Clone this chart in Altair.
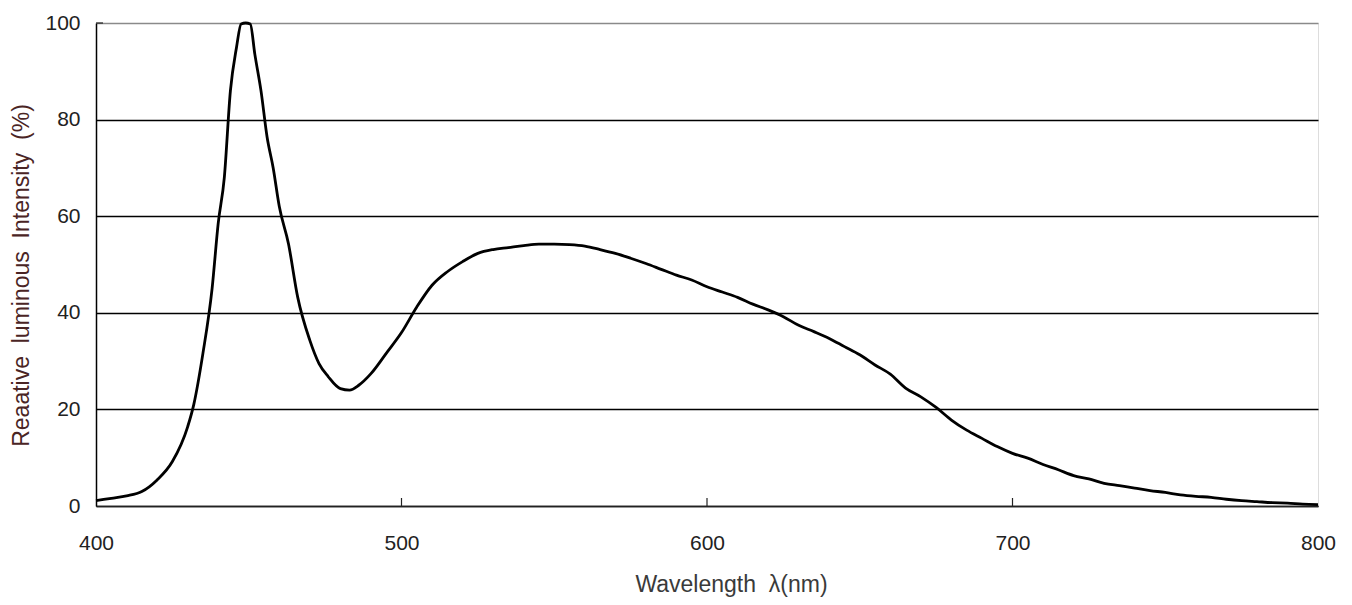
import altair as alt
import pandas as pd

wavelength = [400, 405, 410, 415, 420, 425, 430, 432, 435, 438, 440, 442, 444, 446, 447.5, 449, 450.5,
              452, 454, 456, 458, 460, 463, 466, 470, 473, 476, 480, 483, 486, 490, 495, 500,
              505, 510, 515, 520, 525, 530, 535, 540, 545, 550, 555, 560, 565, 570, 575, 580,
              585, 590, 595, 600, 605, 610, 615, 620, 625, 630, 635, 640, 645, 650, 655, 660,
              665, 670, 675, 680, 685, 690, 695, 700, 705, 710, 715, 720, 725, 730, 735, 740,
              745, 750, 755, 760, 765, 770, 775, 780, 785, 790, 795, 800]
intensity = [1.1, 1.6, 2.1, 3.0, 5.4, 9.2, 16.4, 21.0, 31.6, 45.0, 58.5, 68.0, 86.0, 95.0, 99.8, 100.0, 99.8,
             93.5, 86.0, 76.4, 70.0, 62.0, 54.3, 43.3, 34.3, 29.5, 26.8, 24.3, 24.0, 25.0, 27.4, 31.6, 35.9,
             41.2, 45.7, 48.5, 50.6, 52.3, 53.1, 53.5, 53.9, 54.2, 54.2, 54.1, 53.8, 53.1, 52.3, 51.3, 50.2,
             49.0, 47.8, 46.8, 45.4, 44.3, 43.2, 41.8, 40.6, 39.2, 37.4, 36.1, 34.7, 33.0, 31.3, 29.2, 27.3,
             24.4, 22.6, 20.4, 17.8, 15.7, 14.0, 12.3, 10.9, 9.9, 8.6, 7.5, 6.3, 5.6, 4.7, 4.2, 3.7,
             3.2, 2.8, 2.3, 2.0, 1.8, 1.4, 1.1, 0.9, 0.7, 0.6, 0.4, 0.3]

x_ticks = [400, 500, 600, 700, 800]
y_ticks = [0, 20, 40, 60, 80, 100]

NB = "\u00a0"
x_title = "Wavelength" + NB + " λ(nm)"
y_title = "Reaative" + NB + " luminous" + NB + " Intensity" + NB + " (%)"

W, H = 1222, 483

df = pd.DataFrame({"wl": wavelength, "v": intensity})
xt = pd.DataFrame({"wl": [500, 600, 700]})

xscale = alt.Scale(domain=[400, 800], nice=False, zero=False)
yscale = alt.Scale(domain=[0, 100], nice=False)

label_font = "Liberation Sans"

line = alt.Chart(df).mark_line(color="black", strokeWidth=2.8, interpolate="monotone").encode(
    x=alt.X("wl:Q", scale=xscale,
            axis=alt.Axis(values=x_ticks, title=x_title, grid=False,
                          ticks=False, labelPadding=26, labelFontSize=21, labelFont=label_font,
                          labelColor="#222", titleFontSize=23, titleFont="Liberation Sans",
                          titleFontWeight="normal", titleColor="#3a3a3a", titlePadding=20,
                          titleX=635, titleAlign="center",
                          domainColor="#222", domainWidth=1.5, labelFlush=False)),
    y=alt.Y("v:Q", scale=yscale,
            axis=alt.Axis(values=y_ticks, title=y_title,
                          grid=True,
                          gridColor={"condition": {"test": "datum.value === 100", "value": "#8a8a8a"}, "value": "black"},
                          gridWidth=1.5, ticks=False, labelPadding=16, labelFontSize=21,
                          labelFont=label_font, labelColor="#222", titleFontSize=23,
                          titleFont="Liberation Sans", titleFontWeight="normal",
                          titleColor="#4a2424", titlePadding=11, titleY=252, titleAlign="center",
                          domainColor="black", domainWidth=1.5, labelFlush=False)),
)

xtick_marks = alt.Chart(xt).mark_rule(color="#222", strokeWidth=1.2).encode(
    x=alt.X("wl:Q", scale=xscale),
    y=alt.value(H),
    y2=alt.value(H - 8),
)

ytop = pd.DataFrame({"v": [100]})
ytick_marks = alt.Chart(ytop).mark_rule(color="#222", strokeWidth=1.2).encode(
    y=alt.Y("v:Q", scale=yscale),
    x=alt.value(0),
    x2=alt.value(7),
)

chart = alt.layer(line, xtick_marks, ytick_marks).properties(
    width=W, height=H,
    autosize=alt.AutoSizeParams(type="none"),
    padding={"left": 88, "top": 15, "right": 26, "bottom": 96},
).configure_view(stroke="#8a8a8a", strokeWidth=1.5).configure(background="white")

chart.save("out.html", embed_options={"renderer": "svg", "actions": False})
